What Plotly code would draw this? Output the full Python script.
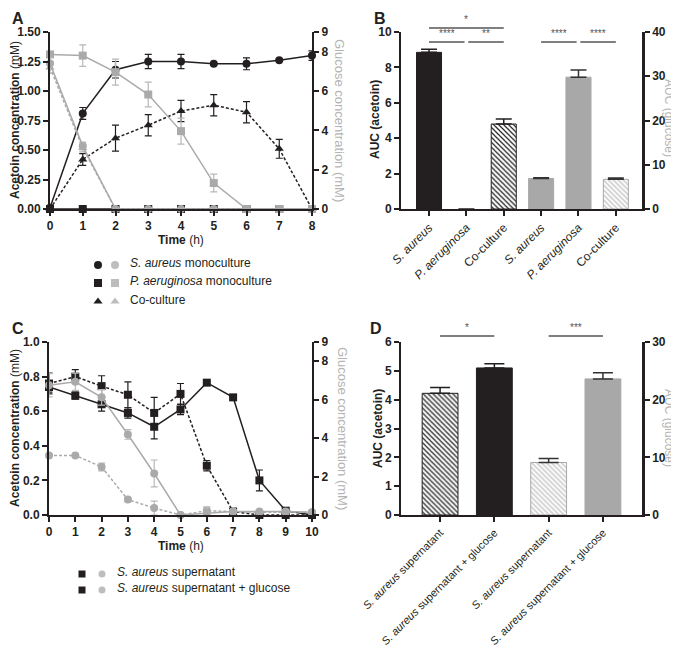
import plotly.graph_objects as go

# page body has an 8px margin; the figure is sized/offset so the page matches 679x658
PAGE_W, PAGE_H, OFF = 679, 658, 8
FW, FH = PAGE_W - OFF, PAGE_H - 2 * OFF
FONT = "Liberation Sans, Arial, sans-serif"
BLACK = "#231f20"
GRAY = "#aaaaaa"
LEG_GRAY = "#bdbdbd"
TITLE_GRAY = "#b4b4b4"
SIG_GRAY = "#555555"

# ---------------- Panel A data ----------------
hours_a = [0, 1, 2, 3, 4, 5, 6, 7, 8]
sa_acetoin = [0.01, 0.81, 1.18, 1.25, 1.25, 1.23, 1.23, 1.26, 1.30]
sa_acetoin_err = [0.0, 0.05, 0.07, 0.06, 0.06, 0.01, 0.05, 0.01, 0.04]
pa_acetoin = [0, 0, 0, 0, 0, 0, 0, 0, 0]
co_acetoin = [0.0, 0.42, 0.60, 0.71, 0.83, 0.88, 0.82, 0.51, 0.0]
co_acetoin_err = [0.0, 0.05, 0.11, 0.09, 0.09, 0.09, 0.09, 0.08, 0.0]
sa_glucose = [7.4, 3.2, 0, 0, 0, 0, 0, 0, 0]
sa_glucose_err = [0.3, 0.2, 0, 0, 0, 0, 0, 0, 0]
pa_glucose = [7.86, 7.8, 6.96, 5.82, 3.96, 1.32, 0, 0, 0]
pa_glucose_err = [0.1, 0.55, 0.66, 0.63, 0.66, 0.45, 0, 0, 0]
co_glucose = [7.2, 3.1, 0, 0, 0, 0, 0, 0, 0]
co_glucose_err = [0.3, 0.2, 0, 0, 0, 0, 0, 0, 0]
legend_a_labels = ["<i>S. aureus</i> monoculture", "<i>P. aeruginosa</i> monoculture", "Co-culture"]

# ---------------- Panel B data ----------------
b_categories = ["<i>S. aureus</i>", "<i>P. aeruginosa</i>", "Co-culture",
                "<i>S. aureus</i>", "<i>P. aeruginosa</i>", "Co-culture"]
b_auc_acetoin = [8.85, 0.0, 4.8]
b_auc_acetoin_err = [0.17, 0.0, 0.28]
b_auc_glucose = [6.9, 29.8, 6.7]
b_auc_glucose_err = [0.15, 1.6, 0.3]

# ---------------- Panel C data ----------------
hours_c = [0, 1, 2, 3, 4, 5, 6, 7, 8, 9, 10]
sup_acetoin = [0.76, 0.80, 0.745, 0.695, 0.59, 0.70, 0.285, 0.02, 0.0, 0.0, 0.0]
sup_acetoin_err = [0.06, 0.04, 0.06, 0.075, 0.09, 0.06, 0.03, 0.01, 0, 0, 0]
supg_acetoin = [0.74, 0.69, 0.64, 0.59, 0.51, 0.61, 0.765, 0.68, 0.20, 0.025, 0.0]
supg_acetoin_err = [0.03, 0.02, 0.04, 0.03, 0.07, 0.03, 0.005, 0.005, 0.06, 0.01, 0]
sup_glucose = [3.1, 3.1, 2.5, 0.8, 0.36, 0.0, 0.22, 0.18, 0.14, 0.14, 0.14]
sup_glucose_err = [0.05, 0.05, 0.2, 0.1, 0.36, 0, 0.2, 0.1, 0.05, 0.05, 0.05]
supg_glucose = [6.75, 6.93, 6.12, 4.19, 2.16, 0.0, 0.09, 0.18, 0.18, 0.18, 0.14]
supg_glucose_err = [0.6, 0.45, 0.4, 0.25, 0.7, 0, 0.3, 0.1, 0.05, 0.05, 0.05]
legend_c_labels = ["<i>S. aureus</i> supernatant", "<i>S. aureus</i> supernatant + glucose"]

# ---------------- Panel D data ----------------
d_categories = ["<i>S. aureus</i> supernatant", "<i>S. aureus</i> supernatant + glucose",
                "<i>S. aureus</i> supernatant", "<i>S. aureus</i> supernatant + glucose"]
d_auc_acetoin = [4.22, 5.1]
d_auc_acetoin_err = [0.2, 0.15]
d_auc_glucose = [9.1, 23.6]
d_auc_glucose_err = [0.7, 1.05]

# ---------------- Layout geometry (page pixels) ----------------
def px_x(p):
    return (p - OFF) / FW

def px_y(p):
    return 1 - (p - OFF) / FH

A_dom_x = [px_x(50), px_x(312)]
B_dom_x = [px_x(401), px_x(642)]
C_dom_x = [px_x(49), px_x(312)]
D_dom_x = [px_x(401), px_x(642)]
TOP_dom_y = [px_y(209), px_y(32)]
BOT_dom_y = [px_y(515), px_y(342)]
B_range = [-0.75, 5.7]
D_range = [-0.72, 3.72]

fig = go.Figure()

def line_trace(x, y, err, color, symbol, dash, xa, ya, ecolor=None, width=1.5):
    ed = None
    if err is not None:
        ed = dict(type="data", array=err, visible=True, color=ecolor or color,
                  thickness=1.2, width=3.5)
    return go.Scatter(x=x, y=y, mode="lines+markers", xaxis=xa, yaxis=ya,
                      line=dict(color=color, width=width, dash=dash),
                      marker=dict(symbol=symbol, size=8, color=color),
                      error_y=ed, cliponaxis=False, showlegend=False)

# Panel A: glucose (gray) first, underneath
fig.add_trace(line_trace(hours_a, pa_glucose, pa_glucose_err, GRAY, "square", "solid", "x", "y2", "#b8b8b8"))
fig.add_trace(line_trace(hours_a, co_glucose, co_glucose_err, GRAY, "triangle-up", "3px,2px", "x", "y2", "#b8b8b8"))
fig.add_trace(line_trace(hours_a, sa_glucose, sa_glucose_err, GRAY, "circle", "solid", "x", "y2", "#b8b8b8"))
fig.add_trace(line_trace(hours_a, pa_acetoin, None, BLACK, "square", "solid", "x", "y"))
fig.add_trace(line_trace(hours_a, co_acetoin, co_acetoin_err, BLACK, "triangle-up", "3px,2px", "x", "y"))
fig.add_trace(line_trace(hours_a, sa_acetoin, sa_acetoin_err, BLACK, "circle", "solid", "x", "y"))

# Panel B bars
fig.add_trace(go.Bar(
    x=[0, 1, 2], y=b_auc_acetoin, xaxis="x2", yaxis="y3", width=0.67,
    marker=dict(color=[BLACK, BLACK, "#262626"], line=dict(color=BLACK, width=[1, 0, 1]),
                pattern=dict(shape=["", "", "\\"], fgcolor="#8c8c8c", size=3.5, solidity=0.35)),
    error_y=dict(type="data", array=b_auc_acetoin_err, arrayminus=[0, 0, 0], symmetric=False,
                 color=BLACK, thickness=1.5, width=8, visible=True),
    showlegend=False))
fig.add_trace(go.Bar(
    x=[3, 4, 5], y=b_auc_glucose, xaxis="x2", yaxis="y4", width=0.67,
    marker=dict(color=["#a8a8a8", "#a8a8a8", "#c4c4c4"], line=dict(color="#a8a8a8", width=1),
                pattern=dict(shape=["", "", "\\"], fgcolor="#f0f0f0", size=3.5, solidity=0.4)),
    error_y=dict(type="data", array=b_auc_glucose_err, arrayminus=[0, 0, 0], symmetric=False,
                 color="#333333", thickness=1.5, width=8, visible=True),
    showlegend=False))

# Panel C
fig.add_trace(line_trace(hours_c, sup_glucose, sup_glucose_err, GRAY, "circle", "3px,2px", "x3", "y6", "#b8b8b8"))
fig.add_trace(line_trace(hours_c, supg_glucose, supg_glucose_err, GRAY, "circle", "solid", "x3", "y6", "#b8b8b8"))
fig.add_trace(line_trace(hours_c, sup_acetoin, sup_acetoin_err, BLACK, "square", "3px,2px", "x3", "y5"))
fig.add_trace(line_trace(hours_c, supg_acetoin, supg_acetoin_err, BLACK, "square", "solid", "x3", "y5"))

# Panel D bars
fig.add_trace(go.Bar(
    x=[0, 1], y=d_auc_acetoin, xaxis="x4", yaxis="y7", width=0.66,
    marker=dict(color=["#262626", BLACK], line=dict(color=BLACK, width=1),
                pattern=dict(shape=["\\", ""], fgcolor="#8c8c8c", size=3.5, solidity=0.35)),
    error_y=dict(type="data", array=d_auc_acetoin_err, arrayminus=[0, 0], symmetric=False,
                 color=BLACK, thickness=1.5, width=10, visible=True),
    showlegend=False))
fig.add_trace(go.Bar(
    x=[2, 3], y=d_auc_glucose, xaxis="x4", yaxis="y8", width=0.66,
    marker=dict(color=["#c4c4c4", "#a8a8a8"], line=dict(color="#a8a8a8", width=1),
                pattern=dict(shape=["\\", ""], fgcolor="#f0f0f0", size=3.5, solidity=0.4)),
    error_y=dict(type="data", array=d_auc_glucose_err, arrayminus=[0, 0], symmetric=False,
                 color="#333333", thickness=1.5, width=10, visible=True),
    showlegend=False))

# Legend swatches: one legend per swatch so each can be placed exactly
legend_layouts = {}
annotations = []

def ann(text, xpx, ypx, size=12, color=BLACK, angle=0, xanchor="center", yanchor="middle"):
    annotations.append(dict(text=text, x=px_x(xpx), y=px_y(ypx), xref="paper", yref="paper",
                            showarrow=False, textangle=angle, xanchor=xanchor, yanchor=yanchor,
                            font=dict(family=FONT, size=size, color=color)))

def swatch(symbol, color, size, cx, cy, xa, ya):
    key = "legend" if not legend_layouts else "legend%d" % (len(legend_layouts) + 1)
    fig.add_trace(go.Scatter(x=[None], y=[None], xaxis=xa, yaxis=ya, mode="markers",
                             marker=dict(symbol=symbol, size=size, color=color), name=" ",
                             legend=key, showlegend=True))
    legend_layouts[key] = dict(x=px_x(cx - 20), y=px_y(cy - 12.5), xanchor="left", yanchor="top",
                               bgcolor="rgba(0,0,0,0)", borderwidth=0,
                               font=dict(family=FONT, size=12, color=BLACK))

legA_symbols = ["circle", "square", "triangle-up"]
legA_rows = [263, 281, 299.5]
for sym, row, lab in zip(legA_symbols, legA_rows, legend_a_labels):
    swatch(sym, BLACK, 8, 98, row, "x", "y")
    swatch(sym, LEG_GRAY, 8, 115, row, "x", "y")
    ann(lab, 128, row, xanchor="left")

legC_rows = [572, 588]
for row, lab in zip(legC_rows, legend_c_labels):
    swatch("square", BLACK, 7, 82, row, "x3", "y5")
    swatch("circle", LEG_GRAY, 7, 102, row, "x3", "y5")
    ann(lab, 115, row, xanchor="left")

tickfont_b = dict(family=FONT, size=12, color=BLACK, weight="bold")
axis_common = dict(showline=True, linecolor=BLACK, linewidth=2, ticks="outside",
                   ticklen=5, tickwidth=2, tickcolor=BLACK, showgrid=False,
                   zeroline=False, tickfont=tickfont_b, fixedrange=True, automargin=False)

fig.update_layout(
    template="none",
    width=FW, height=FH, margin=dict(l=0, r=0, t=0, b=0, autoexpand=False),
    paper_bgcolor="white", plot_bgcolor="white",
    font=dict(family=FONT, size=12, color=BLACK),
    barmode="overlay",
    xaxis=dict(domain=A_dom_x, anchor="y", range=[0, 8], tickvals=hours_a, **axis_common),
    yaxis=dict(domain=TOP_dom_y, anchor="x", range=[0, 1.5],
               tickvals=[0, 0.25, 0.5, 0.75, 1.0, 1.25, 1.5], tickformat=".2f", **axis_common),
    yaxis2=dict(overlaying="y", side="right", anchor="x", range=[0, 9],
                tickvals=[0, 2, 4, 6, 8, 9], **axis_common),
    xaxis2=dict(domain=B_dom_x, anchor="y3", range=B_range, tickvals=[0, 1, 2, 3, 4, 5],
                ticktext=b_categories, tickangle=-45,
                **{**axis_common, "tickfont": dict(family=FONT, size=12, color=BLACK)}),
    yaxis3=dict(domain=TOP_dom_y, anchor="x2", range=[0, 10], tickvals=[0, 2, 4, 6, 8, 10],
                **axis_common),
    yaxis4=dict(overlaying="y3", side="right", anchor="x2", range=[0, 40],
                tickvals=[0, 10, 20, 30, 40], **{**axis_common, "linewidth": 2.5}),
    xaxis3=dict(domain=C_dom_x, anchor="y5", range=[0, 10], tickvals=hours_c, **axis_common),
    yaxis5=dict(domain=BOT_dom_y, anchor="x3", range=[0, 1.0],
                tickvals=[0, 0.2, 0.4, 0.6, 0.8, 1.0], tickformat=".1f", **axis_common),
    yaxis6=dict(overlaying="y5", side="right", anchor="x3", range=[0, 9],
                tickvals=[0, 2, 4, 6, 8, 9], **axis_common),
    xaxis4=dict(domain=D_dom_x, anchor="y7", range=D_range, tickvals=[0, 1, 2, 3],
                ticktext=d_categories, tickangle=-45,
                **{**axis_common, "tickfont": dict(family=FONT, size=11, color=BLACK)}),
    yaxis7=dict(domain=BOT_dom_y, anchor="x4", range=[0, 6], tickvals=[0, 1, 2, 3, 4, 5, 6],
                **axis_common),
    yaxis8=dict(overlaying="y7", side="right", anchor="x4", range=[0, 30],
                tickvals=[0, 10, 20, 30], **{**axis_common, "linewidth": 2.5}),
    **legend_layouts,
)

# Panel letters
ann("<b>A</b>", 10, 18, size=16, xanchor="left")
ann("<b>B</b>", 372, 18, size=16, xanchor="left")
ann("<b>C</b>", 10, 328, size=16, xanchor="left")
ann("<b>D</b>", 368, 328, size=16, xanchor="left")

# Axis titles
ann("<b>Acetoin concentration</b> (mM)", 15, 120, angle=-90)
ann("Glucose concentration (mM)", 340, 120, size=13, color=TITLE_GRAY, angle=90)
ann("<b>Time</b> (h)", 181, 240)
ann("<b>AUC (acetoin)</b>", 375, 120, angle=-90)
ann("AUC (glucose)", 669, 118, color=TITLE_GRAY, angle=90)
ann("<b>Acetoin concentration</b> (mM)", 15, 428, angle=-90)
ann("Glucose concentration (mM)", 343, 428, size=13, color=TITLE_GRAY, angle=90)
ann("<b>Time</b> (h)", 181, 546)
ann("<b>AUC (acetoin)</b>", 378, 428, angle=-90)
ann("AUC (glucose)", 669, 428, color=TITLE_GRAY, angle=90)

# Significance bars
def to_paper(dom, rng, v):
    return dom[0] + (v - rng[0]) / (rng[1] - rng[0]) * (dom[1] - dom[0])

sig_b = [(0, 2, 10.23, "*"), (0, 0.95, 9.43, "****"), (1.05, 2, 9.43, "**"),
         (3, 3.95, 9.43, "****"), (4.05, 5, 9.43, "****")]
sig_d = [(0, 1, 6.21, "*"), (2, 3, 6.21, "***")]
shapes = []
for sigs, dx, dy, rx, ry in [(sig_b, B_dom_x, TOP_dom_y, B_range, [0, 10]),
                             (sig_d, D_dom_x, BOT_dom_y, D_range, [0, 6])]:
    for x0, x1, yv, lab in sigs:
        xa = to_paper(dx, rx, x0)
        xb = to_paper(dx, rx, x1)
        yy = to_paper(dy, ry, yv)
        shapes.append(dict(type="line", xref="paper", yref="paper", x0=xa, x1=xb, y0=yy, y1=yy,
                           line=dict(color=SIG_GRAY, width=1.5)))
        annotations.append(dict(text=lab, x=(xa + xb) / 2, y=yy + 1.0 / FH, xref="paper", yref="paper",
                                showarrow=False, xanchor="center", yanchor="bottom",
                                font=dict(family=FONT, size=10, color=SIG_GRAY)))

fig.update_layout(annotations=annotations, shapes=shapes)
fig.write_html("out.html")
